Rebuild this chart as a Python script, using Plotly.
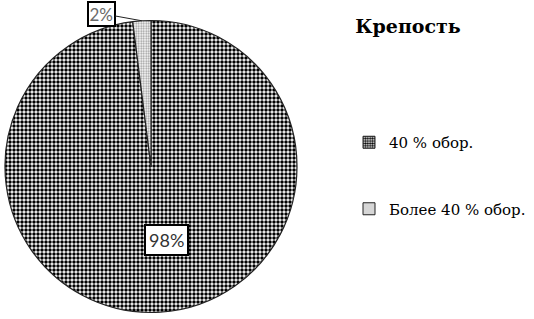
import math
import plotly.graph_objects as go

# ---- data ----
labels = ["40 % обор.", "Более 40 % обор."]
values = [98, 2]
title_text = "Крепость"

W, H = 534, 319
# pie placement (pixels)
PX0, PX1 = 5, 297
PY0, PY1 = 20.5, 312.5
cx = (PX0 + PX1) / 2
cy = (PY0 + PY1) / 2
R = min(PX1 - PX0, PY1 - PY0) / 2

patterns = [
    dict(shape=".", fgcolor="#000000", bgcolor="#ffffff", size=4, solidity=0.6),
    dict(shape=".", fgcolor="#9a9a9a", bgcolor="#ffffff", size=2.5, solidity=0.45),
]

fig = go.Figure()
fig.add_trace(go.Pie(
    labels=labels,
    values=values,
    sort=False,
    direction="clockwise",
    rotation=0,
    textinfo="none",
    hoverinfo="label+percent",
    showlegend=False,
    marker=dict(
        colors=["#ffffff", "#ffffff"],
        pattern=dict(
            shape=[p["shape"] for p in patterns],
            fgcolor=[p["fgcolor"] for p in patterns],
            bgcolor=[p["bgcolor"] for p in patterns],
            size=[p["size"] for p in patterns],
            solidity=[p["solidity"] for p in patterns],
            fillmode="replace",
        ),
        line=dict(color="#222222", width=1.2),
    ),
    domain=dict(x=[PX0 / W, PX1 / W], y=[1 - PY1 / H, 1 - PY0 / H]),
))

# legend entries (one group per label so they can be spaced apart)
for i, lab in enumerate(labels):
    p = patterns[i]
    fig.add_trace(go.Bar(
        x=[None], y=[None], name=lab, legendgroup=f"g{i}",
        marker=dict(color="#ffffff",
                    line=dict(color="#222222", width=1),
                    pattern=dict(shape=p["shape"], fgcolor=p["fgcolor"], bgcolor=p["bgcolor"],
                                 size=3 if i == 0 else 2.5, solidity=p["solidity"], fillmode="replace")),
        hoverinfo="skip",
    ))

# percentage labels
total = sum(values)
pcts = [f"{round(v / total * 100)}%" for v in values]
cum = 0
mids = []
for v in values:
    mids.append((cum + v / 2) / total * 2 * math.pi)
    cum += v

annotations = []
# big slice label inside
annotations.append(dict(
    x=166 / W, y=1 - 239.5 / H, xref="paper", yref="paper",
    text=pcts[0], showarrow=False,
    font=dict(family="Lato, Liberation Sans, sans-serif", size=18, color="#333333"),
    bgcolor="#ffffff", bordercolor="#000000", borderwidth=2, borderpad=3,
    xanchor="center", yanchor="middle",
))
# small slice label outside with leader line
ang = mids[1]
tipx = cx + R * math.sin(ang)
tipy = cy - R * math.cos(ang)
annotations.append(dict(
    x=tipx / W, y=1 - tipy / H, xref="paper", yref="paper",
    text=pcts[1], showarrow=True, arrowhead=0, arrowwidth=1, arrowcolor="#222222",
    ax=101.5 - tipx, ay=13.5 - tipy,
    font=dict(family="Lato, Liberation Sans, sans-serif", size=17, color="#6a6a6a"),
    bgcolor="#ffffff", bordercolor="#000000", borderwidth=2, borderpad=0.5,
    xanchor="center", yanchor="middle",
))

fig.update_layout(
    width=W, height=H,
    margin=dict(l=0, r=0, t=0, b=0),
    paper_bgcolor="#ffffff", plot_bgcolor="#ffffff",
    title=dict(text=f"<b>{title_text}</b>", x=408 / W, xanchor="center",
               y=1 - 26 / H, yanchor="middle", xref="paper", yref="container",
               font=dict(family="DejaVu Serif, serif", size=19, color="#000000")),
    xaxis=dict(visible=False),
    yaxis=dict(visible=False),
    showlegend=True,
    legend=dict(x=349 / W, xanchor="left", y=1 - 126 / H, yanchor="top",
                font=dict(family="DejaVu Serif, serif", size=15, color="#000000"),
                tracegroupgap=44, itemwidth=30, bgcolor="rgba(0,0,0,0)"),
    annotations=annotations,
)

fig.write_html("out.html")
